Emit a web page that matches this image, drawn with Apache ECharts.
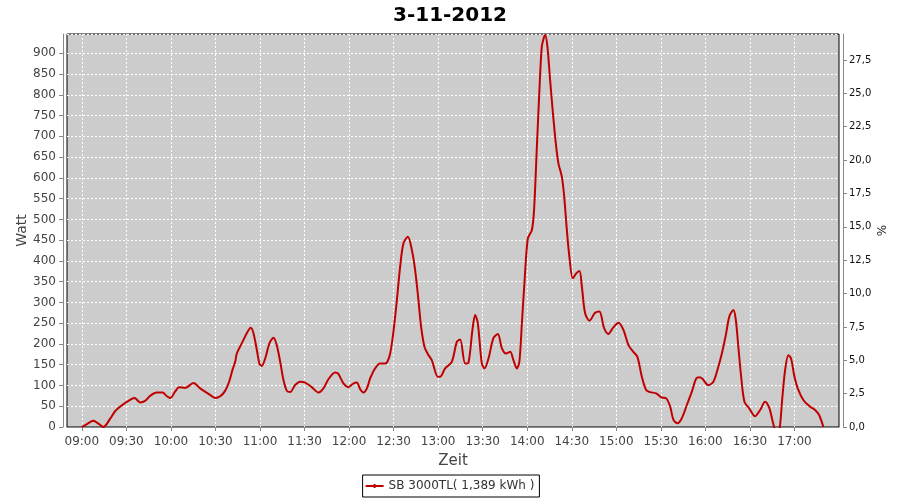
<!DOCTYPE html>
<html><head><meta charset="utf-8">
<script src="https://cdn.jsdelivr.net/npm/echarts@6/dist/echarts.min.js"></script>
<style>html,body{margin:0;padding:0;background:#fff}#c{width:900px;height:500px}</style>
</head><body><div id="c"></div>
<script>
const chartTitle = '3-11-2012';
const seriesName = 'SB 3000TL( 1,389 kWh )';
// time of day in minutes since midnight
const minutes = [540.0,543.4,547.8,551.2,554.5,559.1,562.4,566.9,571.4,575.4,577.0,579.3,582.6,586.0,590.5,594.3,597.3,599.5,602.8,605.5,609.6,615.2,619.7,625.3,629.8,633.2,636.5,639.2,641.4,643.3,644.4,647.8,651.1,653.8,655.6,657.9,659.6,661.2,663.5,666.4,669.1,671.3,673.6,675.8,678.1,680.3,683.7,687.0,690.4,694.9,699.4,702.7,706.1,710.6,712.8,716.2,719.6,722.5,725.2,727.5,729.7,732.0,734.2,737.5,740.9,744.3,745.8,747.7,749.9,752.2,754.4,756.6,759.6,762.3,764.5,766.7,768.5,770.8,773.0,775.7,779.8,781.3,784.7,789.2,792.6,794.8,798.2,800.4,803.1,804.9,806.7,809.4,811.2,813.9,817.2,820.2,822.9,825.6,828.5,830.7,833.0,834.7,836.4,838.1,840.4,843.1,844.6,846.5,848.0,849.8,851.4,852.1,853.6,855.4,857.3,859.5,861.0,863.3,864.9,866.7,868.4,870.7,873.0,875.2,876.8,879.0,881.9,885.7,888.6,891.8,894.7,897.6,901.4,904.8,908.2,911.5,914.2,917.2,920.1,922.8,926.8,930.6,933.6,936.3,938.5,941.2,944.1,947.5,950.9,953.8,956.0,958.0,962.0,965.4,968.4,971.1,973.8,976.2,978.9,980.5,982.2,984.1,986.3,989.5,993.5,996.9,1000.2,1002.9,1005.1,1006.6,1008.2,1010.0,1011.9,1013.7,1015.9,1017.7,1020.0,1022.2,1026.0,1030.5,1033.9,1036.6,1039.5];
const watt = [0,7,15,8,0,20,38,52,63,70,66,59,63,75,83,83,74,70,85,96,94,106,93,80,70,74,87,109,137,157,177,202,226,239,226,185,153,147,165,202,215,197,157,113,87,84,101,109,107,96,83,93,115,131,128,105,96,104,107,91,83,93,117,141,153,153,157,177,230,306,386,442,458,426,378,306,242,193,176,161,121,121,141,157,205,211,153,155,234,270,250,153,141,165,214,224,190,177,181,161,141,157,250,346,454,474,523,675,795,916,940,944,916,836,756,675,635,603,555,474,410,358,370,376,338,274,256,275,278,238,224,238,251,234,197,181,169,121,89,84,81,71,69,49,17,9,21,53,85,117,120,116,101,109,141,177,222,267,282,258,193,121,61,45,26,41,61,47,17,-5,-25,-5,73,137,173,165,121,93,65,49,41,29,0];
const xTickLabels = ['09:00','09:30','10:00','10:30','11:00','11:30','12:00','12:30','13:00','13:30','14:00','14:30','15:00','15:30','16:00','16:30','17:00'];
const xStart = 530, xEnd = 1050, xStep = 10;   // 08:50 .. 17:30
const leftMax = 946.5, leftStep = 50;
const rightMax = 29.45, rightStep = 2.5;

function hhmm(m){const h=Math.floor(m/60), mm=Math.round(m%60);return (h<10?'0':'')+h+':'+(mm<10?'0':'')+mm;}
const cats = [];
for (let m = xStart; m <= xEnd; m += xStep) cats.push(hhmm(m));
const isTick = (i, v) => xTickLabels.indexOf(v) >= 0;
const points = minutes.map((m, i) => [m, watt[i]]);

const FONT = 'DejaVu Sans';
const chart = echarts.init(document.getElementById('c'), null, {renderer: 'canvas'});
chart.setOption({
  animation: false,
  backgroundColor: '#ffffff',
  textStyle: {fontFamily: FONT},
  title: {text: chartTitle, left: 'center', top: 1,
    textStyle: {fontFamily: FONT, fontSize: 20, fontWeight: 'bold', color: '#000'}},
  grid: {left: 67, top: 34, right: 61, bottom: 73, show: true,
    backgroundColor: '#cccccc', borderColor: '#000', borderWidth: 1},
  legend: {bottom: 3, left: 'center', data: [seriesName],
    backgroundColor: '#fff', borderColor: '#000', borderWidth: 1, borderRadius: 0,
    padding: [5, 5, 5, 3], itemWidth: 18, itemHeight: 6, itemGap: 4,
    icon: 'path://M0,2H8V1H10V2H18V4H10V5H8V4H0Z',
    textStyle: {fontFamily: FONT, fontSize: 12, color: '#333'}},
  xAxis: [
    {type: 'value', min: xStart, max: xEnd, show: false},
    {type: 'category', data: cats, boundaryGap: false, position: 'bottom', offset: 4,
      name: 'Zeit', nameLocation: 'middle', nameGap: 23, nameMoveOverlap: false,
      nameTextStyle: {fontFamily: FONT, fontSize: 15, color: '#444'},
      axisLine: {show: true, lineStyle: {color: '#888', width: 1}},
      axisTick: {show: true, interval: isTick, length: 4, lineStyle: {color: '#888'}},
      axisLabel: {interval: isTick, margin: 5, fontFamily: FONT, fontSize: 12, color: '#444'},
      splitLine: {show: true, interval: isTick, lineStyle: {color: '#fff', type: [2, 2], width: 1}}}
  ],
  yAxis: [
    {type: 'value', min: 0, max: leftMax, interval: leftStep, position: 'left', offset: 4,
      name: 'Watt', nameLocation: 'middle', nameGap: 34, nameRotate: 90, nameMoveOverlap: false,
      nameTextStyle: {fontFamily: FONT, fontSize: 14, color: '#444'},
      axisLine: {show: true, lineStyle: {color: '#888', width: 1}},
      axisTick: {show: true, length: 4, lineStyle: {color: '#888'}},
      axisLabel: {showMaxLabel: false, margin: 7, fontFamily: FONT, fontSize: 12, color: '#444'},
      splitLine: {show: true, lineStyle: {color: '#fff', type: [2, 2], width: 1}}},
    {type: 'value', min: 0, max: rightMax, interval: rightStep, position: 'right', offset: 4,
      name: '%', nameLocation: 'middle', nameGap: 34, nameRotate: 90, nameMoveOverlap: false,
      nameTextStyle: {fontFamily: FONT, fontSize: 12, color: '#222'},
      axisLine: {show: true, lineStyle: {color: '#888', width: 1}},
      axisTick: {show: true, length: 4, lineStyle: {color: '#888'}},
      axisLabel: {showMaxLabel: false, margin: 6, fontFamily: FONT, fontSize: 10, color: '#111',
        formatter: v => v.toFixed(1).replace('.', ',')},
      splitLine: {show: false}}
  ],
  series: [{
    name: seriesName, type: 'line', xAxisIndex: 0, yAxisIndex: 0,
    data: points, showSymbol: false, smooth: 0.3, clip: true,
    lineStyle: {color: '#c00000', width: 2}, itemStyle: {color: '#c00000'}
  }]
});
</script></body></html>
